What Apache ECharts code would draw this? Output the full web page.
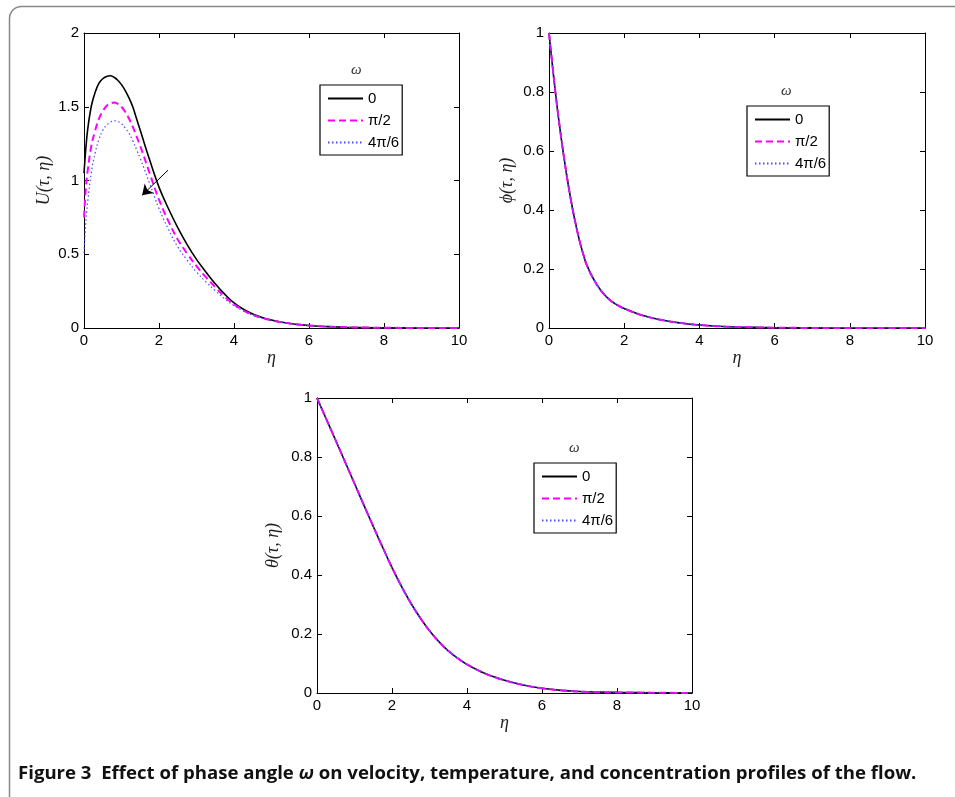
<!DOCTYPE html>
<html>
<head>
<meta charset="utf-8">
<script src="https://cdn.jsdelivr.net/npm/echarts@6/dist/echarts.min.js"></script>
<style>
  html, body { margin: 0; padding: 0; background: #fff; }
  #chart { width: 955px; height: 797px; }
</style>
</head>
<body>
<div id="chart"></div>
<script>
// Legend entries: phase angle omega
const omegaLabels = ['0', 'π/2', '4π/6'];

// Velocity profile U(tau, eta)
const etaU = [0, 0.05, 0.1, 0.2, 0.3, 0.4, 0.5, 0.6, 0.7, 0.8, 0.9, 1.0, 1.1, 1.2, 1.3, 1.4, 1.5, 1.75, 2.0, 2.25, 2.5, 2.75, 3.0, 3.25, 3.5, 3.75, 4.0, 4.25, 4.5, 4.75, 5.0, 5.25, 5.5, 5.75, 6.0, 6.5, 7.0, 7.5, 8.0, 9.0, 10.0];
const uOmega0 = [1.05, 1.22, 1.35, 1.51, 1.60, 1.66, 1.69, 1.705, 1.71, 1.70, 1.68, 1.65, 1.61, 1.56, 1.50, 1.42, 1.34, 1.14, 0.955, 0.81, 0.68, 0.565, 0.465, 0.38, 0.30, 0.23, 0.17, 0.127, 0.095, 0.071, 0.054, 0.041, 0.031, 0.023, 0.017, 0.009, 0.005, 0.003, 0.0015, 0.0003, 0];
const uOmegaHalfPi = [0.75, 0.95, 1.07, 1.24, 1.34, 1.42, 1.47, 1.505, 1.522, 1.528, 1.52, 1.50, 1.465, 1.42, 1.365, 1.30, 1.235, 1.05, 0.87, 0.725, 0.60, 0.505, 0.42, 0.345, 0.278, 0.212, 0.16, 0.12, 0.09, 0.068, 0.052, 0.04, 0.03, 0.022, 0.017, 0.009, 0.005, 0.003, 0.0015, 0.0003, 0];
const uOmega4PiOver6 = [0.51, 0.72, 0.86, 1.06, 1.19, 1.28, 1.34, 1.375, 1.395, 1.405, 1.40, 1.385, 1.355, 1.32, 1.27, 1.21, 1.15, 0.98, 0.81, 0.67, 0.55, 0.46, 0.38, 0.313, 0.253, 0.198, 0.152, 0.115, 0.087, 0.066, 0.05, 0.038, 0.029, 0.022, 0.016, 0.009, 0.005, 0.003, 0.0015, 0.0003, 0];

// Concentration profile phi(tau, eta) (curves coincide for all omega)
const etaPhi = [0, 0.1, 0.2, 0.3, 0.4, 0.5, 0.6, 0.7, 0.8, 0.9, 1.0, 1.2, 1.4, 1.6, 1.8, 2.0, 2.5, 3.0, 3.5, 4.0, 4.5, 5.0, 6.0, 7.0, 8.0, 10.0];
const phiProfile = [1.0, 0.88, 0.767, 0.667, 0.577, 0.495, 0.422, 0.358, 0.302, 0.255, 0.215, 0.162, 0.124, 0.097, 0.079, 0.066, 0.042, 0.027, 0.017, 0.01, 0.006, 0.0035, 0.001, 0.0003, 0, 0];

// Temperature profile theta(tau, eta) (curves coincide for all omega)
const etaTheta = [0, 0.25, 0.5, 0.75, 1.0, 1.25, 1.5, 1.75, 2.0, 2.25, 2.5, 2.75, 3.0, 3.25, 3.5, 3.75, 4.0, 4.5, 5.0, 5.5, 6.0, 6.5, 7.0, 7.5, 8.0, 9.0, 10.0];
const thetaProfile = [1.0, 0.928, 0.856, 0.783, 0.71, 0.637, 0.565, 0.494, 0.425, 0.362, 0.305, 0.255, 0.211, 0.174, 0.143, 0.118, 0.097, 0.065, 0.043, 0.027, 0.016, 0.009, 0.005, 0.003, 0.002, 0.001, 0];

// Axis tick settings
const etaTicks = { min: 0, max: 10, interval: 2 };
const uTicks = { min: 0, max: 2, interval: 0.5 };
const unitTicks = { min: 0, max: 1, interval: 0.2 };

// Arrow showing the direction of increasing omega
const arrowFrom = [2.24, 1.07];
const arrowTo = [1.55, 0.90];

const pairs = (xs, ys) => xs.map((x, i) => [x, ys[i]]);

const labelFont = '"Liberation Sans", Arial, sans-serif';
const mathFont = '"Liberation Serif", "DejaVu Serif", serif';

const lineStyles = [
  { color: '#000000', width: 1.6, type: 'solid' },
  { color: '#ff00ff', width: 2, type: [7, 4] },
  { color: '#4b4bff', width: 1.2, type: [1.5, 2.5] }
];

function axesFor(gridIndex, xt, yt, xName, yName, yNameGap) {
  const base = {
    gridIndex,
    axisLine: { show: true, onZero: false, lineStyle: { color: '#000', width: 1 } },
    axisTick: { show: true, inside: true, length: 5, lineStyle: { color: '#000' } },
    splitLine: { show: false }
  };
  const xs = [
    Object.assign({}, base, {
      type: 'value', position: 'bottom', min: xt.min, max: xt.max, interval: xt.interval,
      axisLabel: { color: '#000', fontSize: 15, fontFamily: labelFont, margin: 5 },
      name: xName, nameLocation: 'middle', nameGap: 20,
      nameTextStyle: { fontFamily: mathFont, fontStyle: 'italic', fontSize: 18, color: '#222' }
    }),
    Object.assign({}, base, {
      type: 'value', position: 'top', min: xt.min, max: xt.max, interval: xt.interval,
      axisLabel: { show: false }
    })
  ];
  const ys = [
    Object.assign({}, base, {
      type: 'value', position: 'left', min: yt.min, max: yt.max, interval: yt.interval,
      axisLabel: { color: '#000', fontSize: 15, fontFamily: labelFont, margin: 5 },
      name: yName, nameLocation: 'middle', nameGap: yNameGap,
      nameTextStyle: { fontFamily: mathFont, fontStyle: 'italic', fontSize: 18, color: '#222' }
    }),
    Object.assign({}, base, {
      type: 'value', position: 'right', min: yt.min, max: yt.max, interval: yt.interval,
      axisLabel: { show: false }
    })
  ];
  return { xs, ys };
}

const grids = [
  { left: 84, top: 33, width: 375, height: 295 },
  { left: 549, top: 33, width: 376, height: 295 },
  { left: 317, top: 398, width: 375, height: 295 }
];

const a0 = axesFor(0, etaTicks, uTicks, 'η', 'U(τ, η)', 31);
const a1 = axesFor(1, etaTicks, unitTicks, 'η', 'ϕ(τ, η)', 33);
const a2 = axesFor(2, etaTicks, unitTicks, 'η', 'θ(τ, η)', 35);

const xAxis = [...a0.xs, ...a1.xs, ...a2.xs];
const yAxis = [...a0.ys, ...a1.ys, ...a2.ys];

function lineSeries(name, axisIdx, data, styleIdx) {
  return {
    name, type: 'line',
    xAxisIndex: axisIdx, yAxisIndex: axisIdx,
    data, showSymbol: false, symbol: 'none',
    smooth: 0.4,
    lineStyle: lineStyles[styleIdx],
    itemStyle: { color: lineStyles[styleIdx].color },
    z: 2 + styleIdx,
    animation: false
  };
}

const series = [
  // velocity
  Object.assign(lineSeries(omegaLabels[0], 0, pairs(etaU, uOmega0), 0), {
    markLine: {
      silent: true, animation: false,
      symbol: ['none', 'arrow'], symbolSize: [0, 10],
      label: { show: false },
      lineStyle: { color: '#000', width: 1, type: 'solid' },
      data: [[{ coord: arrowFrom, symbol: 'none' }, { coord: arrowTo, symbol: 'arrow', symbolSize: 10 }]]
    }
  }),
  lineSeries(omegaLabels[1], 0, pairs(etaU, uOmegaHalfPi), 1),
  lineSeries(omegaLabels[2], 0, pairs(etaU, uOmega4PiOver6), 2),
  // concentration
  lineSeries(omegaLabels[0], 2, pairs(etaPhi, phiProfile), 0),
  lineSeries(omegaLabels[1], 2, pairs(etaPhi, phiProfile), 1),
  lineSeries(omegaLabels[2], 2, pairs(etaPhi, phiProfile), 2),
  // temperature
  lineSeries(omegaLabels[0], 4, pairs(etaTheta, thetaProfile), 0),
  lineSeries(omegaLabels[1], 4, pairs(etaTheta, thetaProfile), 1),
  lineSeries(omegaLabels[2], 4, pairs(etaTheta, thetaProfile), 2)
];

function legendAt(left, top) {
  return {
    data: omegaLabels,
    left, top,
    orient: 'vertical',
    itemWidth: 35, itemHeight: 14, itemGap: 7,
    padding: [6, 3, 5, 7],
    borderColor: '#000', borderWidth: 1.2,
    backgroundColor: '#fff',
    selectedMode: false,
    itemStyle: { opacity: 0 },
    textStyle: { color: '#000', fontSize: 15, fontFamily: labelFont }
  };
}

function omegaTitle(x, y) {
  return {
    type: 'text', left: x - 6, top: y - 10,
    style: { text: 'ω', font: 'italic 15px ' + mathFont, fill: '#333' }
  };
}

const chart = echarts.init(document.getElementById('chart'), null, { renderer: 'canvas' });
chart.setOption({
  animation: false,
  backgroundColor: '#fff',
  grid: grids,
  xAxis, yAxis,
  legend: [legendAt(320, 85), legendAt(747, 106), legendAt(534, 463)],
  series,
  graphic: [
    {
      type: 'rect', left: 7, top: 4, z: -1,
      shape: { width: 965, height: 805, r: 12 },
      style: { fill: 'none', stroke: '#888', lineWidth: 1.5 }
    },
    omegaTitle(357, 73),
    omegaTitle(787, 94),
    omegaTitle(575, 451),
    {
      type: 'text', left: 18, top: 764,
      style: {
        rich: {
          b: { font: 'bold 18.6px "Open Sans", "Noto Sans", sans-serif', fill: '#111' },
          bi: { font: 'italic bold 18.6px "Open Sans", "Noto Sans", sans-serif', fill: '#111' }
        },
        text: '{b|Figure 3  Effect of phase angle }{bi|ω}{b| on velocity, temperature, and concentration profiles of the flow.}'
      }
    }
  ]
});
</script>
</body>
</html>
